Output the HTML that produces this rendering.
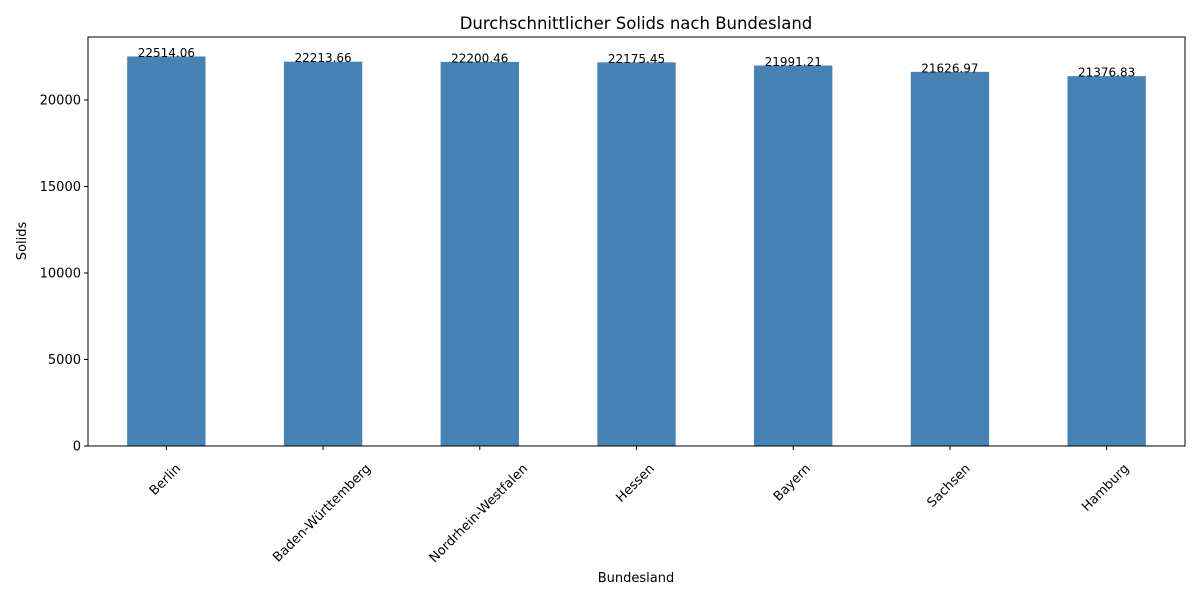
<!DOCTYPE html>
<html><head><meta charset="utf-8"><style>
body{margin:0;background:#fff}
svg text{font-family:"DejaVu Sans","Liberation Sans",sans-serif;fill:#000}
</style></head><body>
<svg id="chart" width="1200" height="600" viewBox="0 0 1200 600" xmlns="http://www.w3.org/2000/svg">
<rect width="1200" height="600" fill="#fff"/>
<text x="636" y="29" text-anchor="middle" font-size="16.5">Durchschnittlicher Solids nach Bundesland</text>
<text transform="translate(26,241) rotate(-90)" text-anchor="middle" font-size="13">Solids</text>
<text x="636" y="582" text-anchor="middle" font-size="13">Bundesland</text>
<g id="marks"></g>
<rect x="88" y="37" width="1097" height="409" fill="none" stroke="#000" stroke-width="1"/>
</svg>
<script>
const categories=["Berlin","Baden-Württemberg","Nordrhein-Westfalen","Hessen","Bayern","Sachsen","Hamburg"];
const values=[22514.06,22213.66,22200.46,22175.45,21991.21,21626.97,21376.83];
const yTicks=[0,5000,10000,15000,20000];
const NS="http://www.w3.org/2000/svg";
const L=88,R=1185,T=37,B=446;
const yMax=Math.max(...values)*1.05;
const y=v=>B-(v/yMax)*(B-T);
const step=(R-L)/categories.length;
const x=i=>L+step*(i+0.5);
const g=document.getElementById('marks');
function mk(tag,attrs){const e=document.createElementNS(NS,tag);for(const k in attrs)e.setAttribute(k,attrs[k]);g.appendChild(e);return e;}
yTicks.forEach(t=>{
 const l=mk('line',{x1:L-4,x2:L,y1:y(t),y2:y(t),stroke:'#000'});
 
 
 const tx=mk('text',{x:L-7,y:y(t)+4.5,'text-anchor':'end','font-size':13});
 tx.textContent=t;
 
 
});
categories.forEach((c,i)=>{
 const bw=step*0.5;
 const r=mk('rect',{x:x(i)-bw/2,y:y(values[i]),width:bw,height:B-y(values[i]),fill:'#4682b4'});
 
 
 const v=mk('text',{x:x(i),y:y(values[i])+0.5,'text-anchor':'middle','font-size':12});
 v.textContent=values[i].toFixed(2);
 
 
 const tk=mk('line',{x1:x(i),x2:x(i),y1:B,y2:B+4,stroke:'#000'});
 
 
 const lb=mk('text',{x:0,y:0,'text-anchor':'end','dominant-baseline':'hanging','font-size':13});
 lb.textContent=c;
 
 
 const w=lb.getComputedTextLength(),h=13;
 lb.setAttribute('transform','translate('+(x(i)-0.707*(h-w)/2)+','+(B+17)+') rotate(-45)');
});
</script>
</body></html>
